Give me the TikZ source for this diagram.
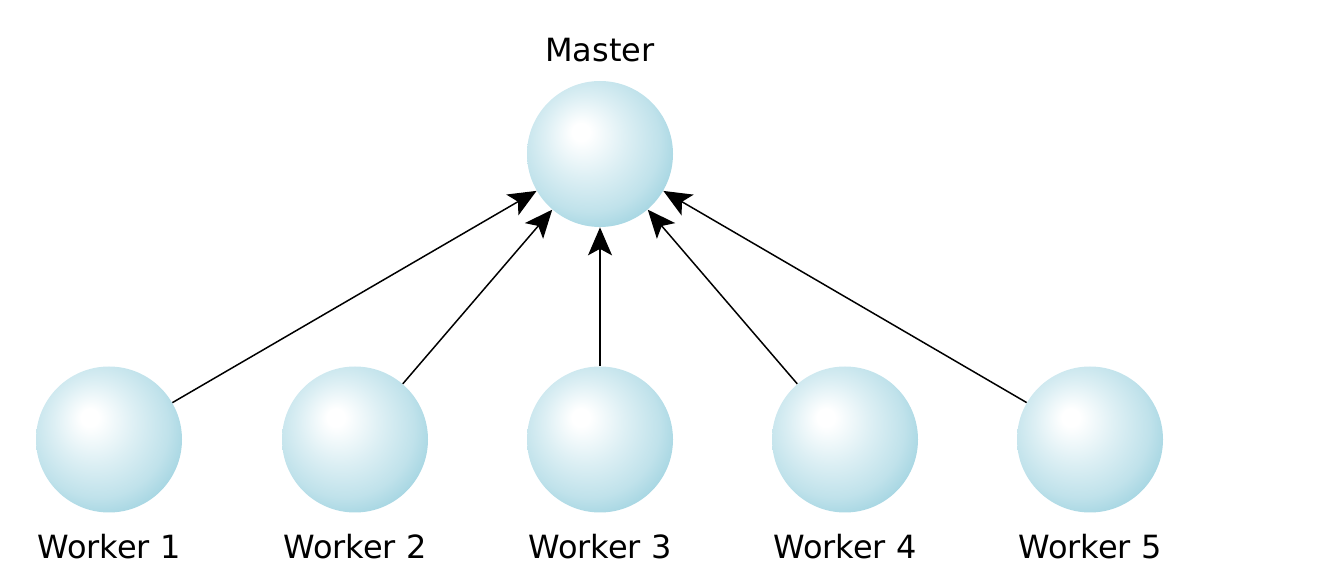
\documentclass[tikz,border=0pt]{standalone}
\usepackage{fontspec}
\setmainfont{DejaVu Sans}
\usetikzlibrary{arrows.meta,positioning}
\definecolor{orbcol}{RGB}{140,202,218}
\pgfdeclareradialshading{orb}{\pgfpoint{-7bp}{8bp}}{%
  color(0bp)=(white); color(3bp)=(white); color(14bp)=(orbcol!30!white);
  color(24bp)=(orbcol!55!white); color(33bp)=(orbcol!90!white); color(50bp)=(orbcol)}
\tikzset{
  orb/.style={circle, shading=orb, draw=none, minimum size=2.92cm, inner sep=0pt},
  orblabel/.style={font=\fontsize{18.2}{21}\selectfont, inner sep=0pt},
  feed/.style={-{Stealth[length=5.6mm, width=4.8mm, inset=1.3mm]}, line width=0.85pt},
}

\begin{document}
\begin{tikzpicture}
  \useasboundingbox (0,0) rectangle (26.84,-11.76);
  % master
  \node[orb, label={[orblabel, name=lmaster, label distance=0.37cm]above:Master}] (master) at (12.0,-3.08) {};
  % workers
  \foreach \i/\x in {1/2.18, 2/7.10, 3/12.0, 4/16.90, 5/21.80} {
    \node[orb, label={[orblabel, name=lw\i, label distance=0.42cm]below:Worker \i}] (w\i) at (\x,-8.79) {};
    \draw[feed] (w\i) -- (master);
  }
\end{tikzpicture}
\end{document}
